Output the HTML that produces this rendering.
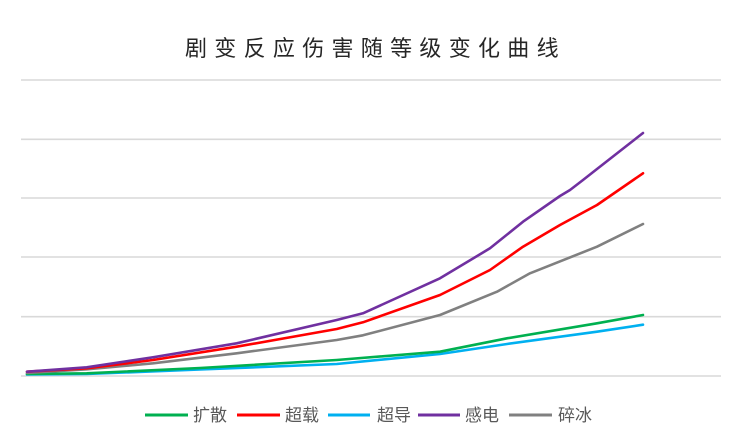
<!DOCTYPE html>
<html>
<head>
<meta charset="utf-8">
<style>
  html,body{margin:0;padding:0;background:#ffffff;}
  body{width:739px;height:439px;overflow:hidden;position:relative;}
  svg{position:absolute;left:0;top:0;}
</style>
</head>
<body>
<svg width="739" height="439" viewBox="0 0 739 439" xmlns="http://www.w3.org/2000/svg">
  <rect x="0" y="0" width="739" height="439" fill="#ffffff"/>
  <!-- title -->
  <text x="185" y="56" font-family="'Liberation Sans','Noto Sans CJK SC',sans-serif" font-size="22" letter-spacing="7.3" fill="#262626">剧变反应伤害随等级变化曲线</text>
  <!-- gridlines -->
  <g stroke="#d9d9d9" stroke-width="1.6">
    <line x1="21" y1="80" x2="721" y2="80"/>
    <line x1="21" y1="139.3" x2="721" y2="139.3"/>
    <line x1="21" y1="198" x2="721" y2="198"/>
    <line x1="21" y1="257" x2="721" y2="257"/>
    <line x1="21" y1="316.7" x2="721" y2="316.7"/>
    <line x1="21" y1="376" x2="721" y2="376"/>
  </g>
  <g fill="none" stroke-width="2.6" stroke-linejoin="round" stroke-linecap="round">
    <!-- cyan 超导 -->
    <polyline stroke="#00b0f0" points="27,374.5 86.7,374 200,369.5 336.7,364 440,354 507,344 597,331.7 643,324.7"/>
    <!-- green 扩散 -->
    <polyline stroke="#00b050" points="27,374 86.7,373.3 200,368 336.7,360 440,351.7 507,338.3 597,323.3 643,315"/>
    <!-- gray 碎冰 -->
    <polyline stroke="#808080" points="27,373 86.7,369.3 153,363.3 236.7,353.3 336.7,340 363,335.3 440,315 497,291.7 530,273.3 597,246.7 643,224"/>
    <!-- red 超载 -->
    <polyline stroke="#ff0000" points="27,371.7 86.7,368.3 153,360 236.7,346.7 336.7,329 363,322.3 440,295 490,270 523,246.7 560,225 597,205 643,173.3"/>
    <!-- purple 感电 -->
    <polyline stroke="#7030a0" points="27,371.7 86.7,367.3 153,357.3 236.7,343.3 336.7,320 363,313.3 440,278.3 490,248.3 523,221.7 560,196 570,190 583,180 597,169 643,133"/>
  </g>
  <!-- legend -->
  <g stroke-width="3">
    <line x1="145" y1="415" x2="188" y2="415" stroke="#00b050"/>
    <line x1="237" y1="415" x2="280" y2="415" stroke="#ff0000"/>
    <line x1="328" y1="415" x2="370" y2="415" stroke="#00b0f0"/>
    <line x1="418" y1="415" x2="460" y2="415" stroke="#7030a0"/>
    <line x1="509" y1="415" x2="552" y2="415" stroke="#808080"/>
  </g>
  <g font-family="'Liberation Sans','Noto Sans CJK SC',sans-serif" font-size="17" fill="#595959">
    <text x="193" y="421">扩散</text>
    <text x="285" y="421">超载</text>
    <text x="377" y="421">超导</text>
    <text x="465" y="421">感电</text>
    <text x="558" y="421">碎冰</text>
  </g>
</svg>
</body>
</html>
